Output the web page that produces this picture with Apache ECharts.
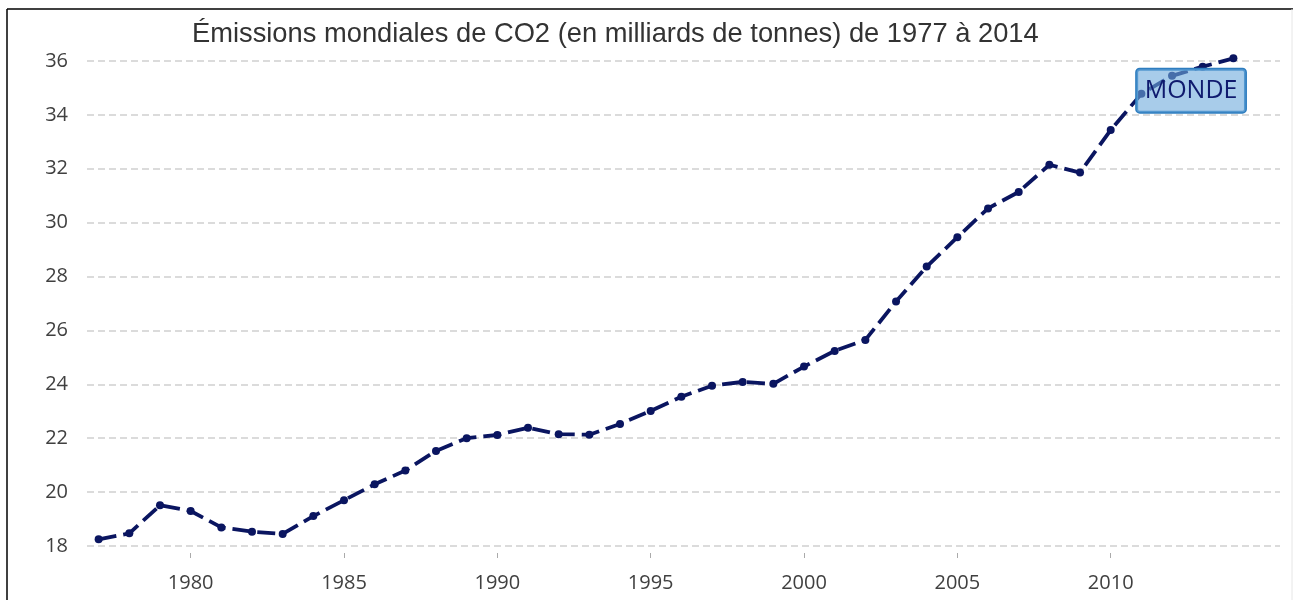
<!DOCTYPE html>
<html>
<head>
<meta charset="utf-8">
<script src="https://cdn.jsdelivr.net/npm/echarts@6/dist/echarts.min.js"></script>
<style>
  html, body { margin: 0; padding: 0; background: #fff; }
  #chart { width: 1293px; height: 600px; }
</style>
</head>
<body>
<div id="chart"></div>
<script>
// années et émissions mondiales de CO2 (milliards de tonnes)
const years = [
  1977, 1978, 1979, 1980, 1981, 1982, 1983, 1984, 1985, 1986,
  1987, 1988, 1989, 1990, 1991, 1992, 1993, 1994, 1995, 1996,
  1997, 1998, 1999, 2000, 2001, 2002, 2003, 2004, 2005, 2006,
  2007, 2008, 2009, 2010, 2011, 2012, 2013, 2014,
];
const emissions = [
  18.25, 18.47, 19.51, 19.30, 18.69, 18.53, 18.45, 19.11, 19.70, 20.29,
  20.80, 21.53, 22.00, 22.12, 22.39, 22.15, 22.13, 22.53, 23.01, 23.54,
  23.95, 24.09, 24.02, 24.66, 25.24, 25.65, 27.07, 28.37, 29.46, 30.53,
  31.14, 32.15, 31.86, 33.44, 34.78, 35.45, 35.79, 36.10,
];
const xTickYears = [1980, 1985, 1990, 1995, 2000, 2005, 2010];
const seriesLabel = "MONDE";
const labelCoord = [2012.62, 34.9];
const titleText = "Émissions mondiales de CO2 (en milliards de tonnes) de 1977 à 2014";

const chart = echarts.init(document.getElementById("chart"));

const option = {
  animation: false,
  backgroundColor: "#ffffff",
  title: {
    text: titleText,
    left: 187,
    top: 16,
    textStyle: {
      fontFamily: "Liberation Sans",
      fontSize: 27.3,
      fontWeight: "normal",
      color: "#333333",
    },
  },
  grid: { left: 87, right: 13, top: 61, bottom: 54 },
  xAxis: {
    type: "value",
    min: 1976.62,
    max: 2015.52,
    offset: 7,
    axisLine: { show: false },
    splitLine: { show: false },
    axisTick: {
      show: true,
      customValues: xTickYears,
      length: 5,
      lineStyle: { color: "#aaaaaa", width: 1 },
    },
    axisLabel: {
      customValues: xTickYears,
      formatter: (value) => String(value),
      margin: 20,
      fontFamily: "Open Sans",
      fontSize: 20,
      color: "#404040",
    },
  },
  yAxis: {
    type: "value",
    min: 18,
    max: 36,
    interval: 2,
    axisLine: { show: false },
    axisTick: { show: false },
    axisLabel: {
      margin: 19,
      fontFamily: "Open Sans",
      fontSize: 20,
      color: "#404040",
    },
    splitLine: {
      lineStyle: { color: "#d0d0d0", width: 1.5, type: [7, 4] },
    },
  },
  series: [
    {
      name: seriesLabel,
      type: "line",
      clip: false,
      data: years.map((y, i) => [y, emissions[i]]),
      symbol: "circle",
      symbolSize: 8,
      itemStyle: { color: "#0a1560" },
      lineStyle: { color: "#0a1560", width: 3.8, type: [18, 7] },
      markPoint: {
        symbol: "circle",
        symbolSize: 1,
        itemStyle: { color: "rgba(0,0,0,0)" },
        data: [{ coord: labelCoord }],
        label: {
          show: true,
          position: "inside",
          formatter: seriesLabel,
          fontFamily: "Open Sans",
          fontSize: 25,
          lineHeight: 27,
          color: "#0f1a6e",
          backgroundColor: "rgba(110,170,220,0.6)",
          borderColor: "#2e7dbf",
          borderWidth: 1.5,
          borderRadius: 3,
          padding: [8, 8, 8, 8],
        },
      },
    },
  ],
  graphic: [
    { type: "line", shape: { x1: 7, y1: 9, x2: 1293, y2: 9 }, style: { stroke: "#000", lineWidth: 1.5 } },
    { type: "line", shape: { x1: 7, y1: 9, x2: 7, y2: 600 }, style: { stroke: "#000", lineWidth: 1.5 } },
    { type: "line", shape: { x1: 1292, y1: 9, x2: 1292, y2: 600 }, style: { stroke: "#e6e6e6", lineWidth: 1 } },
  ],
};

chart.setOption(option);
</script>
</body>
</html>
